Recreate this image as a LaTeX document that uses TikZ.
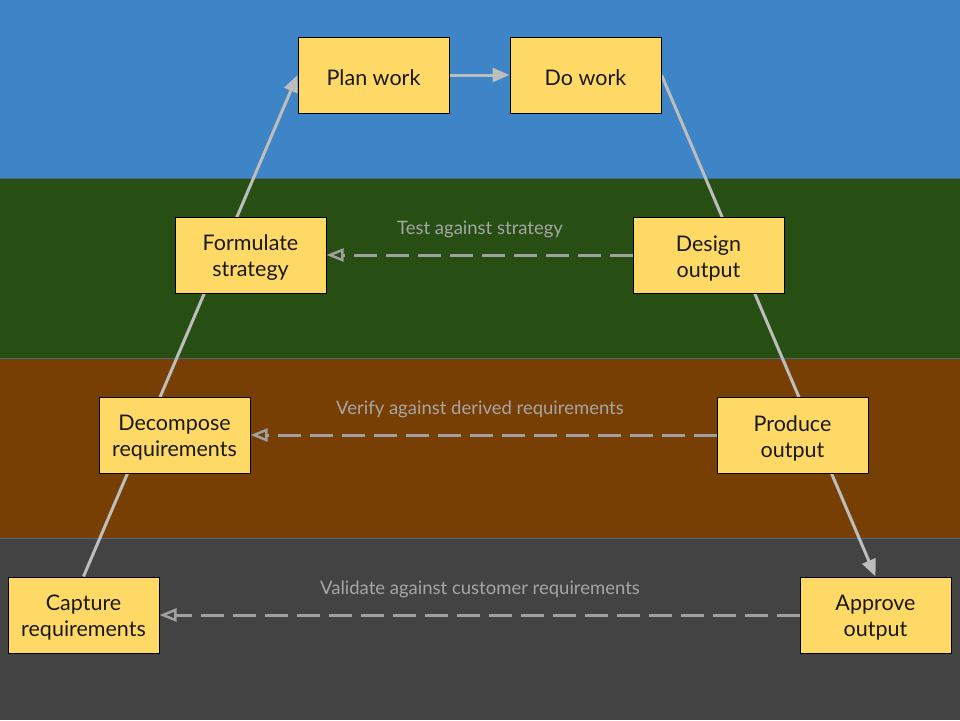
\documentclass[tikz,border=0pt]{standalone}
\usepackage{fontspec}
\setmainfont{Lato}
\usetikzlibrary{arrows.meta}
\definecolor{bandblue}{HTML}{3D85C6}
\definecolor{bandgreen}{HTML}{274E13}
\definecolor{bandbrown}{HTML}{783F04}
\definecolor{bandgray}{HTML}{434343}
\definecolor{bandline}{HTML}{4A6A80}
\definecolor{boxfill}{HTML}{FFD966}
\definecolor{flowline}{HTML}{BDBDBD}
\definecolor{dashline}{HTML}{A0A0A0}
\definecolor{labeltext}{HTML}{A6A6A6}
\pgfdeclarelayer{bands}
\pgfdeclarelayer{links}
\pgfsetlayers{bands,links,main}
\begin{document}
\begin{tikzpicture}[x=1pt,y=-1pt,
  stagebox/.style={draw=black,line width=1pt,fill=boxfill,minimum width=151pt,minimum height=76pt,inner sep=2pt},
  boxtext/.style={align=center,font=\fontsize{21.5}{26}\selectfont,text=black!90,inner sep=0pt},
  flow/.style={draw=flowline,line width=3pt,-{Triangle[length=17pt,width=14pt]}},
  check/.style={draw=dashline,line width=3pt,dash pattern=on 23pt off 9pt,
    -{Triangle[open,length=17pt,width=13pt,line width=2.5pt]}},
  checklabel/.style={text=labeltext,font=\fontsize{18.5}{20}\selectfont}]
\useasboundingbox (0,0) rectangle (960,720);
\begin{pgfonlayer}{bands}
\fill[bandblue] (0,0) rectangle (960,178);
\fill[bandgreen] (0,178) rectangle (960,358);
\fill[bandbrown] (0,358) rectangle (960,538);
\fill[bandgray] (0,538) rectangle (960,720);
\draw[bandline,line width=1pt] (0,178) -- (960,178);
\draw[bandline,line width=1pt] (0,358) -- (960,358);
\draw[bandline,line width=1pt] (0,538) -- (960,538);
\end{pgfonlayer}

\node[stagebox] (plan) at (373.5,75) {};
\node[stagebox] (do) at (585.5,75) {};
\node[stagebox] (formulate) at (250.5,255) {};
\node[stagebox] (design) at (708.5,255) {};
\node[stagebox] (decompose) at (174.5,435) {};
\node[stagebox] (produce) at (792.5,435) {};
\node[stagebox] (capture) at (83.5,615) {};
\node[stagebox] (approve) at (875.5,615) {};
\node[boxtext] (plantext) at ([yshift=-3pt]plan.center) {Plan work};
\node[boxtext] (dotext) at ([yshift=-3pt]do.center) {Do work};
\node[boxtext] (formulatetext) at ([yshift=-3pt]formulate.center) {Formulate\\strategy};
\node[boxtext] (designtext) at ([yshift=-3pt]design.center) {Design\\output};
\node[boxtext] (decomposetext) at ([yshift=-3pt]decompose.center) {Decompose\\requirements};
\node[boxtext] (producetext) at ([yshift=-3pt]produce.center) {Produce\\output};
\node[boxtext] (capturetext) at ([yshift=-3pt]capture.center) {Capture\\requirements};
\node[boxtext] (approvetext) at ([yshift=-3pt]approve.center) {Approve\\output};

\begin{pgfonlayer}{links}
\draw[flow] (capture.north) -- (plan.west);
\draw[flow] (plan.east) -- (do.west);
\draw[flow] (do.east) -- (approve.north);
\draw[check] (design.west) -- (formulate.east);
\draw[check] (produce.west) -- (decompose.east);
\draw[check] (approve.west) -- (capture.east);
\end{pgfonlayer}
\node[checklabel] (lbltest) at (480,229) {Test against strategy};
\node[checklabel] (lblverify) at (480,409) {Verify against derived requirements};
\node[checklabel] (lblvalidate) at (480,589) {Validate against customer requirements};
\end{tikzpicture}
\end{document}
